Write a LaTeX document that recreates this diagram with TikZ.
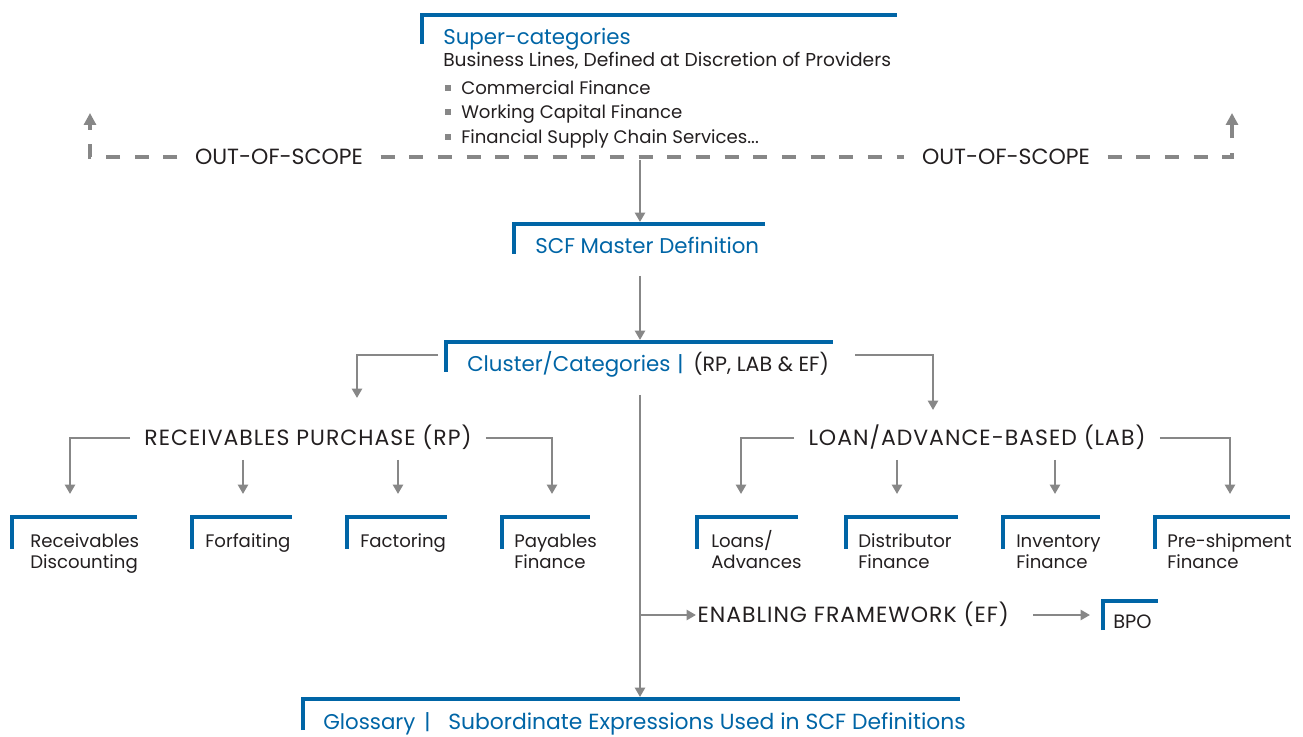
\documentclass[tikz,border=0pt]{standalone}
\usepackage{fontspec}
\setmainfont{Poppins}
\newfontfamily\capsfont[LetterSpace=4.5]{Poppins}
\usetikzlibrary{arrows.meta}
\definecolor{scfblue}{RGB}{0,101,166}
\definecolor{lgray}{RGB}{135,135,135}
\definecolor{ink}{RGB}{35,31,32}
\begin{document}
\begin{tikzpicture}[x=0.75pt,y=-0.75pt,
 bar/.style={draw=scfblue,line width=3.5pt,line join=miter},
 sbar/.style={draw=scfblue,line width=3pt,line join=miter},
 conn/.style={draw=lgray,line width=1.9pt,-{Triangle[length=7pt,width=7.5pt]}},
 dashline/.style={draw=lgray,line width=3.6pt,dash pattern=on 10.5pt off 11pt,-{Triangle[length=9pt,width=9pt]}},
 dashplain/.style={draw=lgray,line width=3.6pt,dash pattern=on 10.5pt off 11pt},
 title/.style={text=scfblue,font=\fontsize{16}{19}\selectfont,inner sep=0pt,anchor=base west},
 body/.style={text=ink,font=\fontsize{13.6}{16.5}\selectfont,inner sep=0pt,anchor=base west},
 small/.style={text=ink,font=\fontsize{15.5}{18}\selectfont,inner sep=0pt,anchor=base west},
 caps/.style={text=ink,font=\capsfont\fontsize{16.5}{19}\selectfont,inner xsep=10.5pt,inner ysep=0pt,text height=11.5pt,text depth=0pt,anchor=center},
 oos/.style={text=ink,font=\fontsize{16.5}{19}\selectfont,inner xsep=13pt,inner ysep=0pt,text height=11.5pt,text depth=0pt,anchor=center},
 bullet/.style={fill=lgray},
]
\useasboundingbox (0,0) rectangle (1303,737);

% Super-categories
\draw[bar] (422,44) |- (897,15);
\node[title] (super) at (443,45) {Super-categories};
\node[body,font=\fontsize{14}{16.5}\selectfont] (busl) at (443,67) {Business Lines, Defined at Discretion of Providers};
\node[body] (cf) at (461,95) {Commercial Finance};
\node[body] (wc) at (461,119) {Working Capital Finance};
\node[body] (fs) at (461,144) {Financial Supply Chain Services...};
\fill[bullet] (444.5,85.5) rectangle (450.5,91.5);
\fill[bullet] (444.5,109.5) rectangle (450.5,115.5);
\fill[bullet] (444.5,134.5) rectangle (450.5,140.5);

% Out of scope
\node[oos] (oosl) at (279,157) {OUT-OF-SCOPE};
\node[oos] (oosr) at (1006,157) {OUT-OF-SCOPE};
\coordinate (oosarrL) at (90,113);
\coordinate (oosarrR) at (1232,113);
\draw[dashline] (oosl.west) -| (oosarrL);
\draw[dashplain] (oosl.east) -- (oosr.west);
\draw[dashline] (oosr.east) -| (oosarrR);

% SCF master definition
\draw[bar] (514,254) |- (765,224);
\node[title] (scf) at (535,254) {SCF Master Definition};
\coordinate (supbot) at (640,160);
\coordinate (scftop) at (640,222);
\draw[conn] (supbot) -- (scftop);

% Cluster
\draw[bar] (446,372) |- (833,342);
\node[title] (clu) at (467,372) {Cluster/Categories};
\node[title] (clupipe) at (677,372) {|};
\node[small] (clus) at (693,372) {(RP, LAB \& EF)};
\coordinate (scfbot) at (640,276);
\coordinate (clutop) at (640,340);
\draw[conn] (scfbot) -- (clutop);
\coordinate (cluL) at (438,355);
\coordinate (cluR) at (855,355);
\coordinate (rpArr) at (357,398);
\coordinate (labArr) at (933,410);
\draw[conn] (cluL) -| (rpArr);
\draw[conn] (cluR) -| (labArr);

% Main vertical
\coordinate (vtop) at (640,395);
\coordinate (glotop) at (640,697);
\coordinate (efbr) at (640,615);
\draw[conn] (vtop) -- (glotop);

% EF
\node[caps,inner xsep=1pt,anchor=west] (ef) at (696,615) {ENABLING FRAMEWORK (EF)};
\draw[conn] (efbr) -- (ef.west);
\coordinate (efout) at (1033,615);
\coordinate (bpoin) at (1090,615);
\draw[conn] (efout) -- (bpoin);
\draw[sbar] (1103,630) |- (1158,601);
\node[small,font=\fontsize{14.5}{16}\selectfont] (bpo) at (1113,628) {BPO};

% Glossary
\draw[bar] (303,730) |- (960,699);
\node[title] (glo) at (323,729) {Glossary};
\node[title] (glopipe) at (424,729) {|};
\node[title,font=\fontsize{16.4}{19}\selectfont] (glosub) at (448,729) {Subordinate Expressions Used in SCF Definitions};

% RP row
\node[caps] (rp) at (308,438) {RECEIVABLES PURCHASE (RP)};
\coordinate (rdT) at (70,494);
\coordinate (pfT) at (552,494);
\draw[conn] (rp.west) -| (rdT);
\draw[conn] (rp.east) -| (pfT);
\coordinate (foS) at (243,460); \coordinate (foT) at (243,494);
\coordinate (faS) at (398,460); \coordinate (faT) at (398,494);
\draw[conn] (foS) -- (foT);
\draw[conn] (faS) -- (faT);

% LAB row
\node[caps] (lab) at (977,438) {LOAN/ADVANCE-BASED (LAB)};
\coordinate (laT) at (741,494);
\coordinate (psT) at (1230,494);
\draw[conn] (lab.west) -| (laT);
\draw[conn] (lab.east) -| (psT);
\coordinate (diS) at (897,460); \coordinate (diT) at (897,494);
\coordinate (inS) at (1055,460); \coordinate (inT) at (1055,494);
\draw[conn] (diS) -- (diT);
\draw[conn] (inS) -- (inT);

% Small boxes
\draw[sbar] (12,549) |- (137,517);
\node[body] (rd1) at (30,547) {Receivables};
\node[body] (rd2) at (30,569) {Discounting};
\draw[sbar] (192,549) |- (292,517);
\node[body] (fo) at (205,547) {Forfaiting};
\draw[sbar] (347,549) |- (447,517);
\node[body] (fa) at (360,547) {Factoring};
\draw[sbar] (502,549) |- (590,517);
\node[body] (pf1) at (514,547) {Payables};
\node[body] (pf2) at (514,569) {Finance};
\draw[sbar] (697,549) |- (798,517);
\node[body] (la1) at (711,547) {Loans/};
\node[body] (la2) at (711,569) {Advances};
\draw[sbar] (846,549) |- (958,517);
\node[body] (di1) at (858,547) {Distributor};
\node[body] (di2) at (858,569) {Finance};
\draw[sbar] (1003,549) |- (1100,517);
\node[body] (in1) at (1016,547) {Inventory};
\node[body] (in2) at (1016,569) {Finance};
\draw[sbar] (1155,549) |- (1290,517);
\node[body] (ps1) at (1167,547) {Pre-shipment};
\node[body] (ps2) at (1167,569) {Finance};
\end{tikzpicture}
\end{document}
